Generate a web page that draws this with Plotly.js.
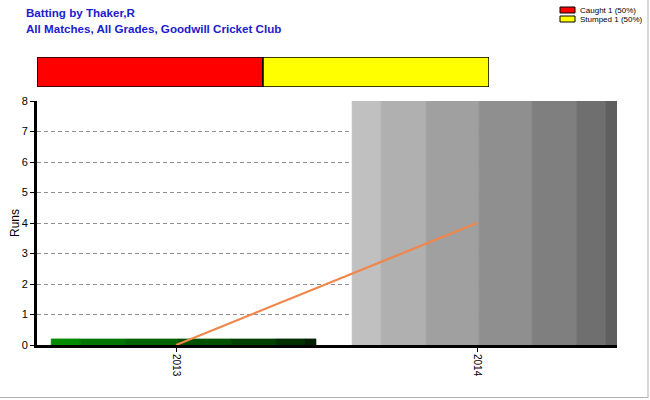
<!DOCTYPE html>
<html>
<head>
<meta charset="utf-8">
<script src="https://cdn.plot.ly/plotly-3.0.1.min.js"></script>
<style>html,body{margin:0;padding:0;background:#fff;}#chart{width:650px;height:400px;}</style>
</head>
<body>
<div id="chart"></div>
<script>
// ---- data ----
const seasons = ['2013', '2014'];
const seasonRuns = [0.2, 8];
const averageRuns = [0, 4];
const dismissalTypes = ['Caught', 'Stumped'];
const dismissalCounts = [1, 1];
const dismissalColors = ['#ff0000', '#ffff00'];
const yTicks = [0, 1, 2, 3, 4, 5, 6, 7, 8];
const titleLines = ['Batting by Thaker,R', 'All Matches, All Grades, Goodwill Cricket Club'];

// ---- styles ----
const bandEdges = [0, 29, 74, 127, 180, 225, 254, 265]; // relative band widths
const greenBands = ['#008a00', '#007600', '#006400', '#005200', '#004000', '#003000', '#002000'];
const greyBands = ['#c0c0c0', '#b0b0b0', '#a0a0a0', '#8f8f8f', '#7f7f7f', '#6f6f6f', '#5f5f5f'];
const barWidth = 0.88, barStart = -0.415;
const titleBlue = '#2020cc';
const FONT = 'Liberation Sans, Arial, sans-serif';
const W = 580, H = 288, L = 37, B = 345; // plot box in pixels
const px = p => (p - L) / W;
const py = p => (B - p) / H;

const traces = [];
const total = bandEdges[bandEdges.length - 1];
for (let i = 0; i < bandEdges.length - 1; i++) {
  const off = barStart + barWidth * bandEdges[i] / total;
  const w = barWidth * (bandEdges[i + 1] - bandEdges[i]) / total;
  traces.push({
    type: 'bar', x: seasons, y: seasonRuns,
    offset: off, width: w,
    marker: {color: [greenBands[i], greyBands[i]], line: {width: 0.6, color: [greenBands[i], greyBands[i]]}},
    showlegend: false, hoverinfo: 'skip'
  });
}
traces.push({
  type: 'scatter', mode: 'lines', x: seasons, y: averageRuns,
  line: {color: '#f0864a', width: 2.2}, showlegend: false
});
const totalDis = dismissalCounts.reduce((a, b) => a + b, 0);
let cum = 0;
dismissalTypes.forEach((d, i) => {
  traces.push({
    type: 'bar', orientation: 'h', x: [dismissalCounts[i]], y: [0], base: [cum],
    xaxis: 'x2', yaxis: 'y2', width: 1,
    marker: {color: dismissalColors[i], line: {color: '#000', width: 1.5}},
    showlegend: false
  });
  cum += dismissalCounts[i];
});

// manual legend
const shapes = [];
const annotations = [];
dismissalTypes.forEach((d, i) => {
  const y0 = 7 + i * 9;
  shapes.push({type: 'rect', xref: 'paper', yref: 'paper',
    x0: px(560), x1: px(575), y0: py(y0), y1: py(y0 + 6),
    fillcolor: dismissalColors[i], line: {color: '#000', width: 1}});
  annotations.push({xref: 'paper', yref: 'paper', x: px(578), y: py(y0 + 3),
    xanchor: 'left', yanchor: 'middle', showarrow: false,
    text: d + ' ' + dismissalCounts[i] + ' (' + Math.round(100 * dismissalCounts[i] / totalDis) + '%)',
    font: {family: FONT, size: 8, color: '#000'}});
});
// title lines
titleLines.forEach((t, i) => {
  annotations.push({xref: 'paper', yref: 'paper', x: px(24), y: py(12 + i * 17),
    xanchor: 'left', yanchor: 'middle', showarrow: false,
    text: '<b>' + t + '</b>', font: {family: FONT, size: 11.6, color: titleBlue}});
});
// outer border (right and bottom)
shapes.push({type: 'line', xref: 'paper', yref: 'paper', x0: px(648), x1: px(648),
  y0: py(0), y1: py(398), line: {color: '#b0b0b0', width: 1}});
shapes.push({type: 'line', xref: 'paper', yref: 'paper', x0: px(0), x1: px(648),
  y0: py(397.5), y1: py(397.5), line: {color: '#b0b0b0', width: 1}});

const layout = {
  width: 650, height: 400,
  margin: {l: 37, r: 33, t: 57, b: 55},
  paper_bgcolor: '#ffffff', plot_bgcolor: '#ffffff',
  barmode: 'overlay',
  xaxis: {
    type: 'category', range: [-0.462, 1.465], domain: [0, 1], anchor: 'y',
    tickangle: 90, ticks: 'outside', ticklen: 4, tickcolor: '#000',
    tickfont: {family: FONT, size: 10, color: '#000'},
    showline: true, linecolor: '#000', linewidth: 3, showgrid: false, zeroline: false
  },
  yaxis: {
    range: [0, 8], domain: [0, 244 / 288], anchor: 'x',
    tickvals: yTicks, ticks: 'outside', ticklen: 4, tickcolor: '#000',
    tickfont: {family: FONT, size: 11, color: '#000'},
    showline: true, linecolor: '#000', linewidth: 3,
    showgrid: true, gridcolor: '#909090', griddash: '4px,3px', gridwidth: 1, zeroline: false,
    title: {text: 'Runs', font: {family: FONT, size: 12, color: '#000'}, standoff: 0}
  },
  xaxis2: {domain: [0, 452 / 580], anchor: 'y2', range: [0, 2], visible: false, fixedrange: true},
  yaxis2: {domain: [py(87), 1], anchor: 'x2', range: [-0.5, 0.5], visible: false, fixedrange: true},
  shapes: shapes,
  annotations: annotations,
  showlegend: false
};

Plotly.newPlot('chart', traces, layout, {displayModeBar: false, staticPlot: true});
</script>
</body>
</html>
